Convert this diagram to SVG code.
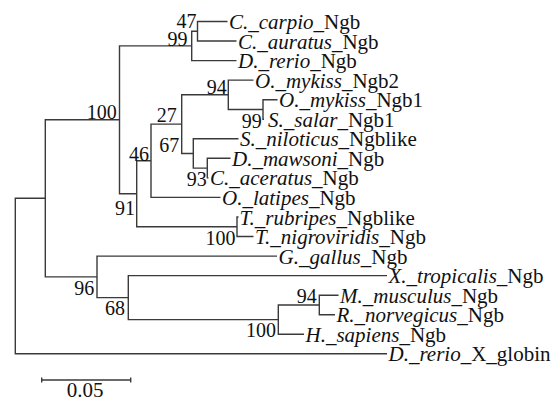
<svg xmlns="http://www.w3.org/2000/svg" width="557" height="402" viewBox="0 0 557 402" font-family="'Liberation Serif', 'DejaVu Serif', serif">
<style>
text{font-family:'Liberation Serif','DejaVu Serif',serif;fill:#111}
.leaf{font-size:21px}
.bs{font-size:20px;text-anchor:end}
.sp{font-style:italic}
.br{fill:none;stroke:#3a3a3a;stroke-width:1.4}
</style>
<rect width="557" height="402" fill="#fff"/>
<g id="connectors">
<path class="br" d="M45.3,198.3 H15.3 V353.8 H387"/>
<path class="br" d="M119.5,119.8 H45.3 V276.85 H97"/>
<path class="br" d="M191.7,45.9 H119.5 V193.75 H136.7"/>
<path class="br" d="M197.5,31.25 H191.7 V60.6 H236.5"/>
<path class="br" d="M227.5,21.5 H197.5 V41 H236.5"/>
<path class="br" d="M151,160.75 H136.7 V226.75 H237"/>
<path class="br" d="M181.7,124.1 H151 V197.4 H220.5"/>
<path class="br" d="M228.3,94.8 H181.7 V153.45 H193.3"/>
<path class="br" d="M253.5,80.1 H228.3 V109.45 H263"/>
<path class="br" d="M277.5,99.7 H263 V119.2 H264"/>
<path class="br" d="M238.5,138.8 H193.3 V168.1 H207.3"/>
<path class="br" d="M230.5,158.3 H207.3 V177.9 H208.5"/>
<path class="br" d="M238.5,217 H237 V236.5 H253.5"/>
<path class="br" d="M277,256.1 H97 V297.6 H128.3"/>
<path class="br" d="M387,275.6 H128.3 V319.6 H278.3"/>
<path class="br" d="M319.3,304.95 H278.3 V334.3 H304"/>
<path class="br" d="M338.5,295.2 H319.3 V314.7 H335"/>
</g>
<g id="leaf-c-carpio"><text class="leaf" x="229" y="29"><tspan class="sp">C._carpio</tspan>_Ngb</text></g>
<g id="leaf-c-auratus"><text class="leaf" x="238" y="48.5"><tspan class="sp">C._auratus</tspan>_Ngb</text></g>
<g id="leaf-d-rerio-ngb"><text class="leaf" x="238" y="68.1"><tspan class="sp">D._rerio</tspan>_Ngb</text></g>
<g id="leaf-o-mykiss-ngb2"><text class="leaf" x="255" y="87.6"><tspan class="sp">O._mykiss</tspan>_Ngb2</text></g>
<g id="leaf-o-mykiss-ngb1"><text class="leaf" x="279" y="107.2"><tspan class="sp">O._mykiss</tspan>_Ngb1</text></g>
<g id="leaf-s-salar"><text class="leaf" x="268" y="126.7"><tspan class="sp">S._salar</tspan>_Ngb1</text></g>
<g id="leaf-s-niloticus"><text class="leaf" x="240" y="146.3"><tspan class="sp">S._niloticus</tspan>_Ngblike</text></g>
<g id="leaf-d-mawsoni"><text class="leaf" x="232" y="165.8"><tspan class="sp">D._mawsoni</tspan>_Ngb</text></g>
<g id="leaf-c-aceratus"><text class="leaf" x="210" y="185.4"><tspan class="sp">C._aceratus</tspan>_Ngb</text></g>
<g id="leaf-o-latipes"><text class="leaf" x="222" y="204.9"><tspan class="sp">O._latipes</tspan>_Ngb</text></g>
<g id="leaf-t-rubripes"><text class="leaf" x="239.5" y="224.5"><tspan class="sp">T._rubripes</tspan>_Ngblike</text></g>
<g id="leaf-t-nigroviridis"><text class="leaf" x="255" y="244"><tspan class="sp">T._nigroviridis</tspan>_Ngb</text></g>
<g id="leaf-g-gallus"><text class="leaf" x="278.5" y="263.6"><tspan class="sp">G._gallus</tspan>_Ngb</text></g>
<g id="leaf-x-tropicalis"><text class="leaf" x="388.5" y="283.1"><tspan class="sp">X._tropicalis</tspan>_Ngb</text></g>
<g id="leaf-m-musculus"><text class="leaf" x="340" y="302.7"><tspan class="sp">M._musculus</tspan>_Ngb</text></g>
<g id="leaf-r-norvegicus"><text class="leaf" x="336.5" y="322.2"><tspan class="sp">R._norvegicus</tspan>_Ngb</text></g>
<g id="leaf-h-sapiens"><text class="leaf" x="305.5" y="341.8"><tspan class="sp">H._sapiens</tspan>_Ngb</text></g>
<g id="leaf-d-rerio-x-globin"><text class="leaf" x="388.5" y="361.3"><tspan class="sp">D._rerio</tspan>_X_globin</text></g>
<g id="node-47"><text class="bs" x="196.5" y="28.3">47</text></g>
<g id="node-99-cyprinid"><text class="bs" x="187.5" y="45.5">99</text></g>
<g id="node-100-fish"><text class="bs" x="116.7" y="119">100</text></g>
<g id="node-94-salmonid"><text class="bs" x="226.7" y="94">94</text></g>
<g id="node-99-salmonid"><text class="bs" x="261.7" y="127.5">99</text></g>
<g id="node-27"><text class="bs" x="176.7" y="122">27</text></g>
<g id="node-67"><text class="bs" x="179.3" y="151.7">67</text></g>
<g id="node-46"><text class="bs" x="149" y="160.5">46</text></g>
<g id="node-93"><text class="bs" x="206.7" y="186">93</text></g>
<g id="node-91"><text class="bs" x="135" y="215">91</text></g>
<g id="node-100-tetraodon"><text class="bs" x="235.5" y="244.5">100</text></g>
<g id="node-96"><text class="bs" x="94.3" y="295">96</text></g>
<g id="node-68"><text class="bs" x="125" y="315">68</text></g>
<g id="node-100-mammal"><text class="bs" x="276" y="336.5">100</text></g>
<g id="node-94-rodent"><text class="bs" x="316.7" y="303.3">94</text></g>
<g id="scale-bar">
<path class="br" d="M41.7,380 H130.7 M41.7,377.5 V382.5 M130.7,377.5 V382.5"/>
<text x="85" y="397" style="font-size:21px;text-anchor:middle">0.05</text>
</g>
</svg>
